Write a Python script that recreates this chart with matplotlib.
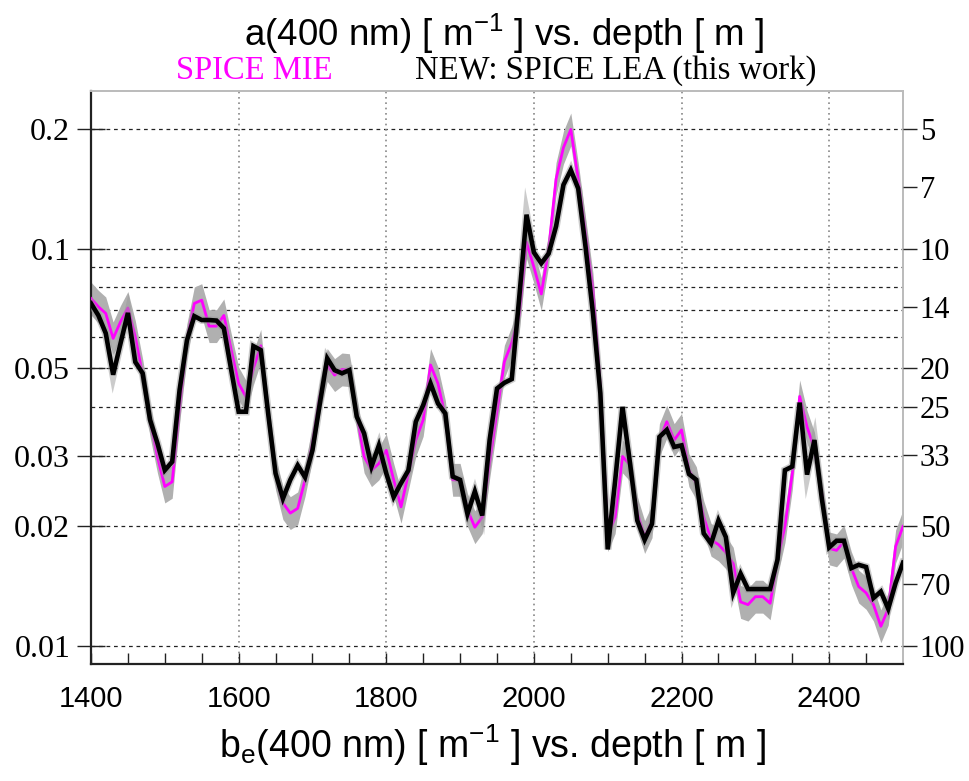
import numpy as np
import matplotlib
matplotlib.use("Agg")
import matplotlib.pyplot as plt
from matplotlib.ticker import FixedLocator, NullFormatter, NullLocator

plt.rcParams["mathtext.fontset"] = "custom"
plt.rcParams["mathtext.rm"] = "Liberation Sans"
plt.rcParams["mathtext.it"] = "Liberation Sans:italic"

# depth grid [m]
depth = np.arange(1400, 2501, 10)

# absorption a(400 nm) [1/m], SPICE MIE model
a_mie = [
    0.075, 0.0715, 0.0688, 0.0595, 0.0655, 0.071, 0.060, 0.048, 0.037, 0.030,
    0.0252, 0.0259, 0.040, 0.059, 0.0729, 0.0743, 0.0639, 0.0639, 0.068, 0.0556,
    0.0458, 0.0424, 0.050, 0.057, 0.038, 0.0272, 0.0229, 0.0216, 0.0222, 0.0262,
    0.0324, 0.0424, 0.051, 0.0481, 0.0497, 0.0495, 0.0385, 0.030, 0.0277, 0.0288,
    0.0311, 0.0262, 0.0224, 0.0272, 0.033, 0.0371, 0.051, 0.0458, 0.0378, 0.0262,
    0.0262, 0.022, 0.0199, 0.0211, 0.029, 0.039, 0.052, 0.058, 0.068, 0.104,
    0.090, 0.077, 0.100, 0.150, 0.180, 0.200, 0.150, 0.109, 0.079, 0.045,
    0.019, 0.0211, 0.030, 0.0286, 0.0216, 0.0188, 0.0206, 0.033, 0.0367, 0.033,
    0.035, 0.0277, 0.0257, 0.0211, 0.0185, 0.018, 0.0172, 0.0161, 0.0129, 0.0127,
    0.0133, 0.0133, 0.0128, 0.0165, 0.020, 0.0272, 0.0425, 0.0356, 0.0314, 0.0242,
    0.0176, 0.0174, 0.0183, 0.0157, 0.0141, 0.0136, 0.0127, 0.0112, 0.0124, 0.0178,
    0.020,
]

# absorption a(400 nm) [1/m], SPICE LEA model
a_lea = [
    0.0729, 0.068, 0.0613, 0.0482, 0.0578, 0.069, 0.0519, 0.0486, 0.0371, 0.0324,
    0.0277, 0.0291, 0.0441, 0.0589, 0.0677, 0.0662, 0.0662, 0.066, 0.0631, 0.0495,
    0.0389, 0.0389, 0.0569, 0.0556, 0.0385, 0.0272, 0.0235, 0.0262, 0.0285, 0.0266,
    0.0311, 0.0408, 0.053, 0.0495, 0.0486, 0.0495, 0.0378, 0.0343, 0.0283, 0.032,
    0.0272, 0.0237, 0.0257, 0.0277, 0.0367, 0.0404, 0.0458, 0.0408, 0.0385, 0.0267,
    0.0262, 0.0215, 0.0245, 0.0213, 0.033, 0.0445, 0.046, 0.047, 0.075, 0.122,
    0.098, 0.092, 0.0974, 0.114, 0.145, 0.158, 0.142, 0.101, 0.0688, 0.0433,
    0.0175, 0.026, 0.040, 0.029, 0.0207, 0.0185, 0.0203, 0.0336, 0.035, 0.0317,
    0.032, 0.0271, 0.0262, 0.0192, 0.0181, 0.0207, 0.0188, 0.0136, 0.0152, 0.0139,
    0.0139, 0.0139, 0.0139, 0.0165, 0.0277, 0.0283, 0.041, 0.027, 0.033, 0.0235,
    0.0177, 0.0184, 0.0184, 0.0157, 0.016, 0.0158, 0.0132, 0.0137, 0.0124, 0.0144,
    0.0162,
]

# relative uncertainty of the MIE model
mie_rel_err = 0.10

left_ticks = [0.01, 0.02, 0.03, 0.05, 0.1, 0.2]
left_labels = ["0.01", "0.02", "0.03", "0.05", "0.1", "0.2"]
hgrid = [0.01, 0.02, 0.03, 0.04, 0.05, 0.06, 0.07, 0.08, 0.09, 0.1, 0.2]
right_labels = [5, 7, 10, 14, 20, 25, 33, 50, 70, 100]
x_major = [1400, 1600, 1800, 2000, 2200, 2400]

a_mie = np.array(a_mie)
a_lea = np.array(a_lea)

fig = plt.figure(figsize=(9.69, 7.81), dpi=100)
ax = fig.add_axes([0.0939, 0.1498, 0.838, 0.7337])
ax.set_yscale("log")
ax.set_xlim(1400, 2500)
ax.set_ylim(0.009, 0.25)

# grid
for v in hgrid:
    ax.axhline(v, color="#222222", lw=0.9, ls=(0, (3, 3)), zorder=1)
for xv in x_major[1:]:
    ax.axvline(xv, color="#888888", lw=1.2, ls=(0, (1, 2.2)), zorder=1)

# data
ax.fill_between(depth, a_mie / (1 + mie_rel_err), a_mie * (1 + mie_rel_err),
                color="#b0b0b0", lw=0, zorder=2)
ax.plot(depth, a_mie, color="#ff00ff", lw=2.0, zorder=3)
ax.plot(depth, a_lea, color="#999999", lw=5.5, alpha=0.5, zorder=4,
        solid_joinstyle="miter")
ax.plot(depth, a_lea, color="black", lw=3.3, zorder=5, solid_joinstyle="miter")

# axes frame
for s in ["left", "bottom"]:
    ax.spines[s].set_color("#222222")
    ax.spines[s].set_linewidth(1.6)
for s in ["top", "right"]:
    ax.spines[s].set_color("#bbbbbb")
    ax.spines[s].set_linewidth(1.4)

# x ticks
ax.xaxis.set_major_locator(FixedLocator(x_major))
ax.xaxis.set_minor_locator(FixedLocator(np.arange(1450, 2500, 50)))
ax.xaxis.set_minor_formatter(NullFormatter())
ax.tick_params(axis="x", which="both", direction="in", length=8, width=1,
               color="#222222", pad=15, labelsize=21)
for lab in ax.get_xticklabels():
    lab.set_family("Liberation Sans")

# left y ticks
ax.yaxis.set_major_locator(FixedLocator(left_ticks))
ax.yaxis.set_minor_locator(NullLocator())
ax.set_yticklabels(left_labels)
ax.tick_params(axis="y", which="both", direction="inout", length=20, width=1,
               color="#222222", pad=5, labelsize=23)
for lab in ax.get_yticklabels():
    lab.set_family("Liberation Serif")

# right y ticks: reciprocal scale
ax2 = ax.twinx()
ax2.set_yscale("log")
ax2.set_ylim(ax.get_ylim())
ax2.yaxis.set_major_locator(FixedLocator([1.0 / r for r in right_labels]))
ax2.yaxis.set_minor_locator(NullLocator())
ax2.set_yticklabels([str(r) for r in right_labels])
ax2.tick_params(axis="y", direction="out", length=10, width=1, color="#222222",
                pad=2, labelsize=22)
for lab in ax2.get_yticklabels():
    lab.set_family("Liberation Serif")
for s in ax2.spines.values():
    s.set_visible(False)

# titles
fig.text(0.52, 0.957, r"a(400 nm) [ m$^{\mathrm{-1}}$ ] vs. depth [ m ]",
         ha="center", va="center", fontsize=26.5, family="Liberation Sans")
fig.text(0.262, 0.909, "SPICE MIE", ha="center", va="center", fontsize=23.5,
         family="Liberation Serif", color="#ff00ff")
fig.text(0.635, 0.909, "NEW: SPICE LEA (this work)", ha="center", va="center",
         fontsize=23.5, family="Liberation Serif", color="black")
fig.text(0.508, 0.046,
         r"b$_{\mathrm{e}}$(400 nm) [ m$^{\mathrm{-1}}$ ] vs. depth [ m ]",
         ha="center", va="center", fontsize=27, family="Liberation Sans")

fig.savefig("out.png", dpi=100)
